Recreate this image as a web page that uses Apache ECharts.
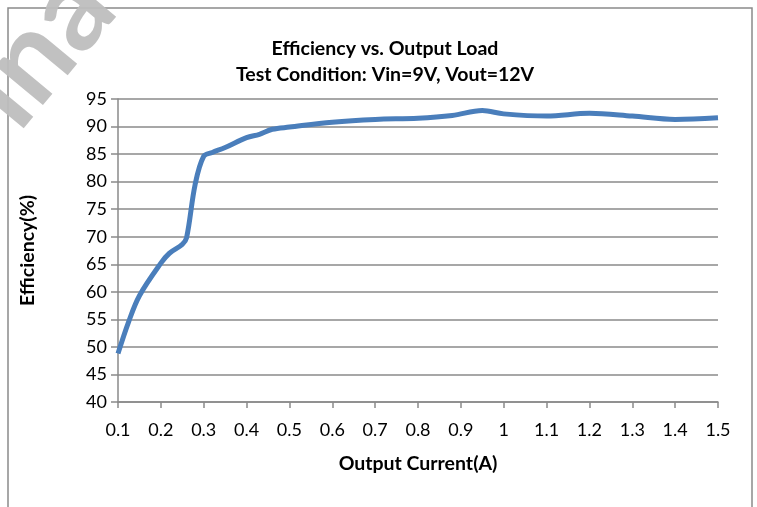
<!DOCTYPE html>
<html>
<head>
<meta charset="utf-8">
<script src="https://cdn.jsdelivr.net/npm/echarts@6/dist/echarts.min.js"></script>
<style>
  html, body { margin: 0; padding: 0; background: #fff; }
  #chart { width: 757px; height: 507px; }
</style>
</head>
<body>
<div id="chart"></div>
<script>
// output current (A) and efficiency (%)
const current = [0.1, 0.125, 0.15, 0.2, 0.22, 0.25, 0.26, 0.28, 0.3, 0.32, 0.35, 0.4, 0.43, 0.46, 0.5, 0.6, 0.7, 0.8, 0.88, 0.95, 1.0, 1.1, 1.2, 1.3, 1.4, 1.5]
const efficiency = [48.8, 54.6, 59.3, 65.2, 67.0, 68.6, 69.8, 79.5, 84.6, 85.3, 86.2, 88.0, 88.6, 89.5, 89.9, 90.8, 91.3, 91.5, 92.0, 92.9, 92.3, 91.9, 92.4, 91.9, 91.3, 91.6]
const xTicks = { min: 0.1, max: 1.5, step: 0.1 }
const yTicks = { min: 40, max: 95, step: 5 }

const font = 'Lato, "Open Sans", sans-serif'
const gridGray = '#8a8a8a'

const myChart = echarts.init(document.getElementById('chart'))

const option = {
  animation: false,
  title: {
    text: 'Efficiency vs. Output Load\nTest Condition: Vin=9V, Vout=12V',
    left: 380,
    top: 31,
    textAlign: 'center',
    textStyle: {
      fontFamily: font,
      fontSize: 19.5,
      fontWeight: 'bold',
      color: '#000',
      lineHeight: 26
    }
  },
  grid: { left: 118, right: 39, top: 99, bottom: 105 },
  xAxis: {
    type: 'value',
    min: xTicks.min,
    max: xTicks.max,
    interval: xTicks.step,
    name: 'Output Current(A)',
    nameLocation: 'middle',
    nameGap: 52,
    nameTextStyle: { fontFamily: font, fontSize: 19.5, fontWeight: 'bold', color: '#000' },
    axisLine: { lineStyle: { color: gridGray, width: 1.5 } },
    axisTick: { show: true, length: 6, lineStyle: { color: gridGray, width: 1.5 } },
    axisLabel: {
      margin: 19,
      fontFamily: font,
      fontSize: 18,
      color: '#000',
      formatter: v => String(+v.toFixed(1))
    },
    splitLine: { show: false }
  },
  yAxis: {
    type: 'value',
    min: yTicks.min,
    max: yTicks.max,
    interval: yTicks.step,
    name: 'Efficiency(%)',
    nameLocation: 'middle',
    nameGap: 80,
    nameTextStyle: { fontFamily: font, fontSize: 19.5, fontWeight: 'bold', color: '#000' },
    axisLine: { show: true, lineStyle: { color: gridGray, width: 1.5 } },
    axisTick: { show: true, length: 7, lineStyle: { color: gridGray, width: 1.5 } },
    axisLabel: { margin: 11, fontFamily: font, fontSize: 18, color: '#000' },
    splitLine: { show: true, lineStyle: { color: gridGray, width: 1.5 } }
  },
  series: [
    {
      type: 'line',
      data: current.map((c, i) => [c, efficiency[i]]),
      smooth: 0.35,
      showSymbol: false,
      lineStyle: { color: '#4a7ebb', width: 5 }
    }
  ],
  graphic: [
    {
      type: 'rect',
      shape: { x: 8, y: 8, width: 744, height: 530 },
      style: { fill: 'none', stroke: '#8a8a8a', lineWidth: 1.5 },
      silent: true
    },
    {
      type: 'text',
      x: -8,
      y: 200,
      rotation: Math.PI * 0.28,
      style: {
        text: 'Fina',
        fontFamily: font,
        fontSize: 120,
        fontWeight: 'bold',
        fill: 'rgba(190,190,190,0.95)',
        textVerticalAlign: 'bottom'
      },
      z: 100,
      silent: true
    }
  ]
}

myChart.setOption(option)
</script>
</body>
</html>
